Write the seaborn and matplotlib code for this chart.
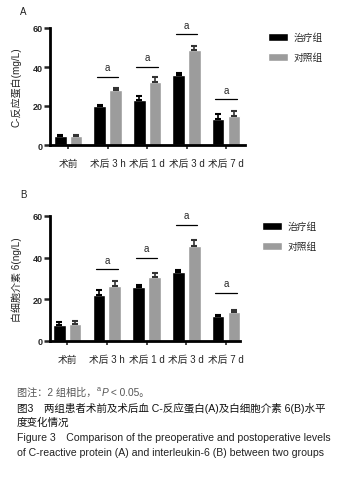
import matplotlib
matplotlib.use("Agg")
import matplotlib.pyplot as plt
import seaborn as sns
import pandas as pd
import numpy as np

# ---------------- data ----------------
time_points = ['术前', '术后 3 h', '术后 1 d', '术后 3 d', '术后 7 d']
groups = ['治疗组', '对照组']

crp_treat = [4.8, 19.8, 23.3, 35.7, 13.4]
crp_treat_err = [0.4, 0.5, 1.7, 1.3, 2.3]
crp_ctrl = [4.7, 28.4, 32.4, 48.6, 15.0]
crp_ctrl_err = [0.5, 0.6, 2.6, 2.3, 2.2]
crp_sig = [None, 35.0, 40.2, 56.9, 23.4]

il6_treat = [7.9, 22.2, 25.9, 33.2, 11.9]
il6_treat_err = [1.3, 2.2, 1.2, 1.1, 0.5]
il6_ctrl = [8.4, 26.5, 30.6, 45.6, 13.7]
il6_ctrl_err = [1.4, 2.1, 1.9, 3.0, 1.4]
il6_sig = [None, 34.4, 40.0, 55.9, 23.2]

y_ticks = [0, 20, 40, 60]

sns.set_theme(style="white")
plt.rcParams['font.family'] = ['Liberation Sans', 'Noto Sans CJK SC', 'DejaVu Sans']
plt.rcParams['axes.unicode_minus'] = False

fig = plt.figure(figsize=(3.5, 4.89), dpi=100)
W, H = 350, 489


def make_panel(rect, treat, treat_err, ctrl, ctrl_err, sig, ylabel, xlim, legend_xy):
    ax = fig.add_axes(rect)
    df = pd.DataFrame({
        'time': time_points * 2,
        'value': list(treat) + list(ctrl),
        'group': [groups[0]] * 5 + [groups[1]] * 5,
    })
    sns.barplot(data=df, x='time', y='value', hue='group', order=time_points,
                hue_order=groups, palette=['#000000', '#9c9c9c'],
                width=0.8, gap=0.2, errorbar=None, saturation=1, ax=ax)
    for cont, errs, col in zip(ax.containers, [treat_err, ctrl_err], ['#000000', '#333333']):
        xs = [b.get_x() + b.get_width() / 2 for b in cont]
        ys = [b.get_height() for b in cont]
        ax.errorbar(xs, ys, yerr=[np.zeros(len(errs)), errs], fmt='none',
                    ecolor=col, elinewidth=1.2, capsize=2.5, capthick=1.5, zorder=3)
    for i, h in enumerate(sig):
        if h is None:
            continue
        ax.plot([i - 0.27, i + 0.27], [h, h], color='black', lw=0.9)
        ax.text(i, h + 2.2, 'a', ha='center', va='bottom', fontsize=7)
    ax.set_ylim(0, 60)
    ax.set_xlim(*xlim)
    ax.set_yticks(y_ticks)
    ax.set_yticklabels([str(t) for t in y_ticks], fontsize=6.5, fontweight='bold')
    ax.set_xticks(range(len(time_points)))
    ax.set_xticklabels(time_points, fontsize=7)
    ax.tick_params(axis='y', length=4, width=1.8, pad=1, direction='out', left=True)
    ax.tick_params(axis='x', length=3, width=1.2, pad=6, direction='out', bottom=True)
    ax.set_xlabel('')
    ax.set_ylabel(ylabel, fontsize=7.2, labelpad=8, color='#222222')
    for s in ['top', 'right']:
        ax.spines[s].set_visible(False)
    for s in ['left', 'bottom']:
        ax.spines[s].set_linewidth(2)
        ax.spines[s].set_color('black')
    handles, labels = ax.get_legend_handles_labels()
    ax.legend(handles, labels, loc='upper left',
              bbox_to_anchor=(legend_xy[0] / W, 1 - legend_xy[1] / H),
              bbox_transform=fig.transFigure, frameon=False, fontsize=7,
              borderpad=0, borderaxespad=0, handlelength=2.1, handleheight=0.9,
              handletextpad=0.5, labelspacing=1.05)
    return ax


axA = make_panel([50 / W, 1 - 146 / H, 195 / W, 117 / H],
                 crp_treat, crp_treat_err, crp_ctrl, crp_ctrl_err, crp_sig,
                 'C-反应蛋白(mg/L)', (-0.46, 4.48), (268, 33))
axB = make_panel([50 / W, 1 - 342 / H, 190 / W, 125 / H],
                 il6_treat, il6_treat_err, il6_ctrl, il6_ctrl_err, il6_sig,
                 '白细胞介素 6(ng/L)', (-0.43, 4.35), (262, 222))

fig.text(20 / W, 1 - 12 / H, 'A', fontsize=7, ha='left', va='center', color='#222222')
fig.text(20 / W, 1 - 195 / H, 'B', fontsize=7, ha='left', va='center', color='#222222')

cap_x = 17 / W
renderer = fig.canvas.get_renderer()

# note line composed of pieces (superscript a, italic P)
pieces = [('图注：2 组相比，', 7.3, 'normal', 0),
          ('a', 5.2, 'normal', 3),
          ('P', 7.3, 'italic', 0),
          (' < 0.05。', 7.3, 'normal', 0)]
x_px = 17
base_y = 393
for txt, fs, style, raise_px in pieces:
    t = fig.text(x_px / W, 1 - (base_y - raise_px) / H, txt, fontsize=fs,
                 fontstyle=style, color='#555555', ha='left', va='center')
    bb = t.get_window_extent(renderer=renderer)
    x_px += bb.width + (1 if txt == 'a' else 0)

fig.text(cap_x, 1 - 408 / H, '图3　两组患者术前及术后血 C-反应蛋白(A)及白细胞介素 6(B)水平',
         fontsize=7.6, color='#111111', ha='left', va='center', fontweight='medium')
fig.text(cap_x, 1 - 423 / H, '度变化情况',
         fontsize=7.6, color='#111111', ha='left', va='center', fontweight='medium')
fig.text(cap_x, 1 - 438 / H, 'Figure 3　Comparison of the preoperative and postoperative levels',
         fontsize=7.6, color='#222222', ha='left', va='center')
fig.text(cap_x, 1 - 453 / H, 'of C-reactive protein (A) and interleukin-6 (B) between two groups',
         fontsize=7.6, color='#222222', ha='left', va='center')

fig.savefig('out.png', dpi=100)
